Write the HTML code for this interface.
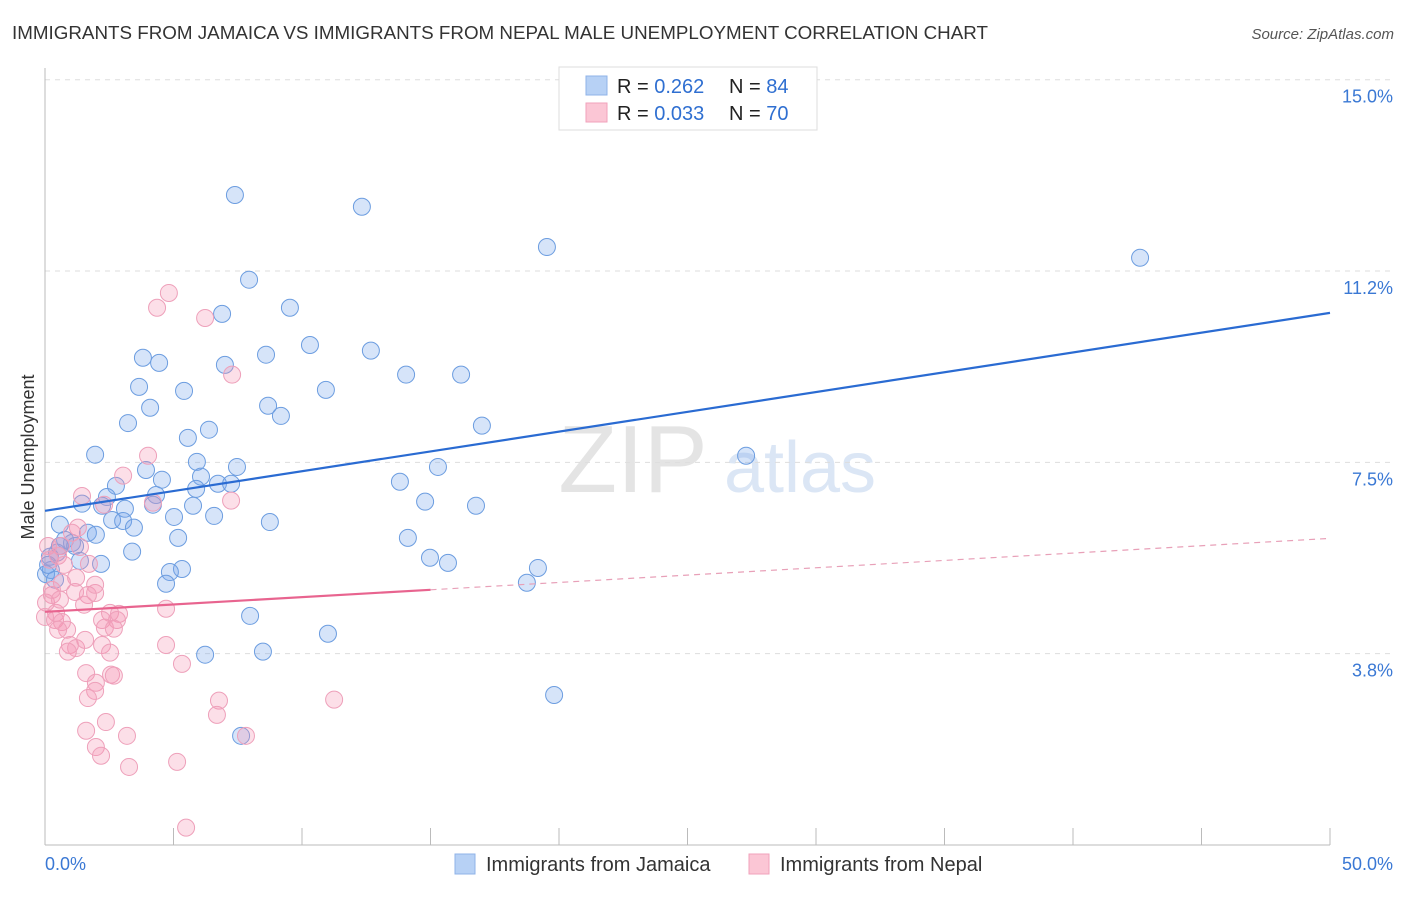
<!DOCTYPE html>
<html><head><meta charset="utf-8"><style>
body{margin:0;background:#fff;font-family:"Liberation Sans",sans-serif;}
svg text{font-family:"Liberation Sans",sans-serif;}
</style></head><body>
<svg id="chart" width="1406" height="892" xmlns="http://www.w3.org/2000/svg">
<text x="12" y="39" font-size="18" fill="#333" textLength="976" lengthAdjust="spacingAndGlyphs">IMMIGRANTS FROM JAMAICA VS IMMIGRANTS FROM NEPAL MALE UNEMPLOYMENT CORRELATION CHART</text>
<text x="1394" y="39" font-size="15" fill="#555" font-style="italic" text-anchor="end">Source: ZipAtlas.com</text>
<text x="633" y="492" font-size="96" fill="#e4e4e4" font-family="Liberation Serif" text-anchor="middle">ZIP</text>
<text x="800" y="492" font-size="72" fill="#dbe6f5" text-anchor="middle">atlas</text>
<text transform="translate(34,457) rotate(-90)" font-size="18" fill="#333" text-anchor="middle">Male Unemployment</text>
<g id="grid"></g><g id="axes"></g><g id="marks"></g>
<g>
<rect x="559" y="67" width="258" height="63" fill="#fff" stroke="#ddd"/>
<rect x="586" y="76" width="21" height="19" fill="#b7d1f5" stroke="#8fb3e8"/>
<rect x="586" y="103" width="21" height="19" fill="#fbc6d5" stroke="#f0a2bb"/>
<text x="617" y="93" font-size="20" fill="#222">R = <tspan fill="#2f6fd1">0.262</tspan><tspan x="729">N = </tspan><tspan fill="#2f6fd1">84</tspan></text>
<text x="617" y="120" font-size="20" fill="#222">R = <tspan fill="#2f6fd1">0.033</tspan><tspan x="729">N = </tspan><tspan fill="#2f6fd1">70</tspan></text>
</g>
<g>
<rect x="455" y="854" width="20" height="20" fill="#b7d1f5" stroke="#8fb3e8"/>
<text x="486" y="871" font-size="20" fill="#333">Immigrants from Jamaica</text>
<rect x="749" y="854" width="20" height="20" fill="#fbc6d5" stroke="#f0a2bb"/>
<text x="780" y="871" font-size="20" fill="#333">Immigrants from Nepal</text>
</g>
</svg>
<script>
const yTicks=[15.0,11.25,7.5,3.75];
const yTickLabels=["15.0%","11.2%","7.5%","3.8%"];
const xTickLabels=["0.0%","50.0%"];
const jamaicaX=[7.39,12.33,19.53,42.61,7.94,6.89,9.53,10.31,3.81,4.44,8.60,12.68,7.00,3.66,5.41,10.93,14.05,16.19,4.09,8.68,9.18,3.23,6.38,5.56,17.00,1.95,27.28,3.93,5.91,7.47,4.55,6.07,13.81,15.29,2.76,2.41,5.88,6.73,7.24,4.32,1.44,2.22,3.11,4.20,5.76,14.79,16.77,2.61,3.04,3.46,5.02,6.58,8.75,0.58,1.67,1.98,5.18,14.12,0.78,1.05,1.17,3.39,0.47,0.19,14.98,15.68,1.36,2.18,0.23,0.04,5.33,19.18,4.86,4.71,18.75,7.98,11.01,6.23,8.48,19.81,7.63,0.58,0.39,0.12];
const jamaicaY=[12.74,12.51,11.72,11.51,11.08,10.41,10.53,9.80,9.55,9.45,9.61,9.69,9.41,8.98,8.90,8.92,9.22,9.22,8.57,8.61,8.41,8.27,8.14,7.98,8.22,7.65,7.63,7.35,7.51,7.41,7.16,7.22,7.12,7.41,7.04,6.82,6.98,7.08,7.08,6.86,6.69,6.65,6.59,6.67,6.65,6.73,6.65,6.37,6.35,6.22,6.43,6.45,6.33,6.28,6.12,6.08,6.02,6.02,5.98,5.92,5.86,5.75,5.73,5.65,5.63,5.53,5.57,5.51,5.39,5.31,5.41,5.43,5.35,5.12,5.14,4.49,4.14,3.73,3.79,2.94,2.14,5.86,5.20,5.49];
const nepalX=[4.82,4.36,6.23,7.28,4.01,3.04,1.44,4.20,7.24,2.30,1.28,1.05,0.62,1.36,0.12,0.51,0.19,0.74,1.71,1.21,0.66,1.17,1.95,1.67,0.27,0.04,1.52,2.53,2.88,4.71,0.43,0.00,0.39,0.66,2.22,2.80,0.86,0.51,2.33,2.68,0.97,2.22,1.21,0.89,2.53,4.71,5.33,1.60,2.57,2.68,1.98,1.95,1.67,6.77,11.25,6.69,2.37,1.60,3.19,7.82,1.98,2.18,5.14,3.27,5.49,0.27,0.58,1.56,1.95];
const nepalY=[10.82,10.53,10.33,9.22,7.63,7.24,6.84,6.71,6.75,6.67,6.22,6.12,5.86,5.84,5.86,5.67,5.59,5.49,5.51,5.24,5.14,4.96,4.94,4.90,4.90,4.75,4.71,4.55,4.53,4.63,4.55,4.47,4.41,4.37,4.41,4.41,4.22,4.22,4.26,4.24,3.92,3.92,3.86,3.79,3.77,3.92,3.55,3.37,3.34,3.32,3.18,3.02,2.88,2.83,2.85,2.55,2.41,2.24,2.14,2.14,1.92,1.75,1.63,1.53,0.34,5.00,4.81,4.02,5.10];
const jamaicaTrend=[6.55,10.43];
const nepalTrend=[4.57,6.01];
const nepalSolidEnd=15;
const X0=45,X1=1330,YB=845,YPX=51.02;
const sx=v=>X0+(v/50)*(X1-X0);
const sy=v=>YB-v*YPX;
const NS="http://www.w3.org/2000/svg";
function mk(tag,attrs,parent){const e=document.createElementNS(NS,tag);for(const k in attrs)e.setAttribute(k,attrs[k]);parent.appendChild(e);return e;}
const grid=document.getElementById('grid'),axes=document.getElementById('axes'),marks=document.getElementById('marks');
yTicks.forEach((t,i)=>{
 const l=mk('line',{x1:X0,x2:1394,y1:sy(t),y2:sy(t),stroke:'#ddd','stroke-dasharray':'5,5'},grid);
 
 
 const tx=mk('text',{x:1393,y:sy(t)+23,'font-size':18,fill:'#3a78d4','text-anchor':'end'},grid);
 tx.textContent=yTickLabels[i];
 
 
});
const ax=mk('line',{x1:X0,x2:X0,y1:68,y2:YB,stroke:'#bbb'},axes);


const bx=mk('line',{x1:X0,x2:X1,y1:YB,y2:YB,stroke:'#bbb'},axes);


for(let p=5;p<=50;p+=5){
 const t=mk('line',{x1:sx(p),x2:sx(p),y1:828,y2:YB,stroke:'#bbb'},axes);
 
 
}
const xl0=mk('text',{x:45,y:870,'font-size':18,fill:'#3a78d4'},axes);xl0.textContent=xTickLabels[0];


const xl1=mk('text',{x:1393,y:870,'font-size':18,fill:'#3a78d4','text-anchor':'end'},axes);xl1.textContent=xTickLabels[1];


jamaicaX.forEach((x,i)=>{
 const c=mk('circle',{cx:sx(x),cy:sy(jamaicaY[i]),r:8.5,fill:'rgba(120,165,235,0.3)',stroke:'#6c9de0','stroke-width':1},marks);
 
 
});
nepalX.forEach((x,i)=>{
 const c=mk('circle',{cx:sx(x),cy:sy(nepalY[i]),r:8.5,fill:'rgba(245,150,180,0.3)',stroke:'#eea0ba','stroke-width':1},marks);
 
 
});
const jt=mk('line',{x1:sx(0),y1:sy(jamaicaTrend[0]),x2:sx(50),y2:sy(jamaicaTrend[1]),stroke:'#2a6bd2','stroke-width':2.2},marks);


const nAt=v=>nepalTrend[0]+(nepalTrend[1]-nepalTrend[0])*v/50;
const nt=mk('line',{x1:sx(0),y1:sy(nAt(0)),x2:sx(nepalSolidEnd),y2:sy(nAt(nepalSolidEnd)),stroke:'#e8648f','stroke-width':2.2},marks);


const nd=mk('line',{x1:sx(nepalSolidEnd),y1:sy(nAt(nepalSolidEnd)),x2:sx(50),y2:sy(nAt(50)),stroke:'#e8a0b8','stroke-width':1.2,'stroke-dasharray':'6,5'},marks);


</script>
</body></html>
